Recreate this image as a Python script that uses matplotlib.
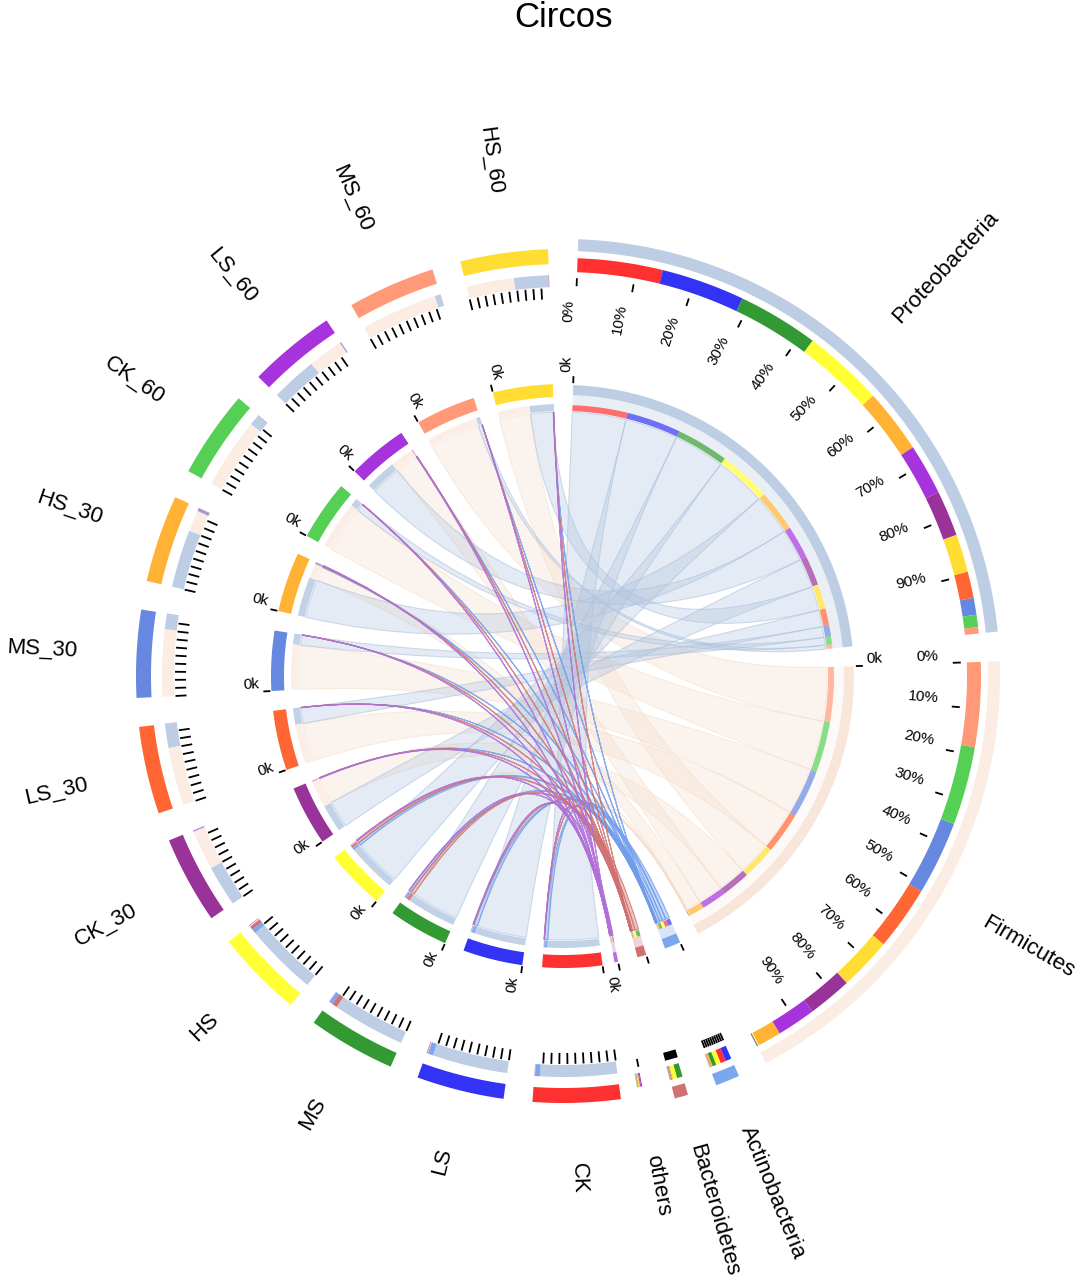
import numpy as np
import matplotlib
matplotlib.use("Agg")
import matplotlib.pyplot as plt
from matplotlib.path import Path
from matplotlib.patches import PathPatch, Polygon
from matplotlib.colors import to_rgba

plt.rcParams['font.family'] = ['Liberation Sans', 'DejaVu Sans']

# ---------------- data (relative abundance, % per sample) ----------------
samples = ["CK", "LS", "MS", "HS", "CK_30", "LS_30", "MS_30", "HS_30",
           "CK_60", "LS_60", "MS_60", "HS_60"]
phyla = ["Proteobacteria", "Firmicutes", "Actinobacteria", "Bacteroidetes", "others"]

proteobacteria = [93.2, 91.6, 88.6, 88.4, 50.0, 29.0, 18.5, 70.5, 13.5, 56.0, 7.0, 41.5]
firmicutes     = [0.3, 0.8, 0.3, 1.3, 48.4, 70.5, 81.0, 25.6, 86.0, 42.5, 92.7, 57.5]
actinobacteria = [6.0, 6.5, 4.4, 5.0, 0.3, 0.2, 0.3, 1.8, 0.2, 0.3, 0.1, 0.3]
bacteroidetes  = [0.2, 0.8, 6.2, 4.5, 0.3, 0.1, 0.1, 1.2, 0.1, 0.2, 0.1, 0.4]
others         = [0.3, 0.3, 0.5, 0.8, 1.0, 0.2, 0.1, 0.9, 0.2, 1.0, 0.1, 0.3]

sample_colors = ["#FF3030", "#3333F5", "#339933", "#FFFF33", "#993399", "#FF6633",
                 "#6688E0", "#FFB233", "#55D055", "#A633DB", "#FF9977", "#FFDD33"]
phylum_colors = ["#BCCDE4", "#FBEDE4", "#7BA7EE", "#D07272", "#B46EE0"]
phylum_outer = ["#BCCDE4", "#FBEDE4", "#7BA7EE", "#D07272", "none"]
ribbon_colors = ["#B0C4DE", "#F5DCC8", "#6E9CEB", "#D07070", "#B070D8"]
pct_ticks = [0, 10, 20, 30, 40, 50, 60, 70, 80, 90]

# ---------------- layout ----------------
W, H = 1084, 1288
CX, CY = 563, 676
GAP = 3.9
PH_START, PH_END = 2.0, 169.8
SM_START, SM_END = 172.2, 358.0

fig = plt.figure(figsize=(W / 100, H / 100), dpi=100)
ax = fig.add_axes([0, 0, 1, 1])
ax.set_xlim(0, W)
ax.set_ylim(H, 0)
ax.axis('off')

M = np.array([proteobacteria, firmicutes, actinobacteria, bacteroidetes, others])
ph_tot = M.sum(axis=1)
sm_tot = M.sum(axis=0)
ph_scale = (PH_END - PH_START - GAP * (len(phyla) - 1)) / ph_tot.sum()
sm_scale = (SM_END - SM_START - GAP * (len(samples) - 1)) / sm_tot.sum()


def pt(r, th):
    t = np.radians(th)
    return CX + r * np.sin(t), CY - r * np.cos(t)


def band(r0, r1, a0, a1, color, alpha=1.0, z=3):
    if color == "none" or a1 <= a0:
        return
    n = max(3, int((a1 - a0) / 0.4) + 3)
    ts = np.linspace(a0, a1, n)
    outer = [pt(r1, t) for t in ts]
    inner = [pt(r0, t) for t in ts[::-1]]
    ax.add_patch(Polygon(outer + inner, closed=True, facecolor=color, alpha=alpha,
                         edgecolor='none', zorder=z))


def tick(r0, r1, th, lw=1.3):
    x0, y0 = pt(r0, th)
    x1, y1 = pt(r1, th)
    ax.plot([x0, x1], [y0, y1], color='black', lw=lw, solid_capstyle='butt', zorder=6)


def radial_text(r, th, s, side='start', va='center', fs=16):
    x, y = pt(r, th)
    t = th % 360
    if t < 180:
        rot = 90 - t
        ha = 'left' if side == 'start' else 'right'
    else:
        rot = 270 - t
        ha = 'right' if side == 'start' else 'left'
    ax.text(x, y, s, rotation=rot, rotation_mode='anchor', ha=ha, va=va,
            fontsize=fs, color='black', zorder=7)


# segment positions
ph_seg = []
a = PH_START
for i in range(len(phyla)):
    span = ph_tot[i] * ph_scale
    ph_seg.append((a, a + span))
    a += span + GAP
sm_seg = []
a = SM_START
for j in range(len(samples)):
    span = sm_tot[j] * sm_scale
    sm_seg.append((a, a + span))
    a += span + GAP

# sub-blocks (descending order, clockwise)
ph_sub = {}
for i in range(len(phyla)):
    order = sorted(range(len(samples)), key=lambda j: -M[i, j])
    a = ph_seg[i][0]
    for j in order:
        w = M[i, j] * ph_scale
        ph_sub[(i, j)] = (a, a + w)
        a += w
sm_sub = {}
for j in range(len(samples)):
    order = sorted(range(len(phyla)), key=lambda i: -M[i, j])
    a = sm_seg[j][0]
    for i in order:
        w = M[i, j] * sm_scale
        sm_sub[(i, j)] = (a, a + w)
        a += w

# ---------------- ribbons ----------------
RR = 264


def ribbon(a0, a1, b0, b1, fc, fa, ea, z):
    n1 = max(2, int((a1 - a0) / 0.4) + 2)
    n2 = max(2, int((b1 - b0) / 0.4) + 2)
    arc1 = [pt(RR, t) for t in np.linspace(a0, a1, n1)]
    arc2 = [pt(RR, t) for t in np.linspace(b0, b1, n2)]
    verts = arc1 + [(CX, CY), arc2[0]] + arc2[1:] + [(CX, CY), arc1[0], arc1[0]]
    codes = ([Path.MOVETO] + [Path.LINETO] * (n1 - 1) + [Path.CURVE3, Path.CURVE3]
             + [Path.LINETO] * (n2 - 1) + [Path.CURVE3, Path.CURVE3, Path.CLOSEPOLY])
    ax.add_patch(PathPatch(Path(verts, codes), facecolor=to_rgba(fc, fa),
                           edgecolor=to_rgba(fc, ea), lw=0.8, zorder=z))


ribbon_alpha = {0: (0.33, 0.6), 1: (0.3, 0.5), 2: (0.4, 0.8), 3: (0.4, 0.8), 4: (0.45, 0.85)}
for z, i in enumerate([1, 0, 2, 3, 4]):
    for j in range(len(samples)):
        if M[i, j] <= 0:
            continue
        pa0, pa1 = ph_sub[(i, j)]
        sa0, sa1 = sm_sub[(i, j)]
        fa, ea = ribbon_alpha[i]
        ribbon(pa0, pa1, sa0, sa1, ribbon_colors[i], fa, ea, 1 + z * 0.1)

# ---------------- inner ring ----------------
for i in range(len(phyla)):
    a0, a1 = ph_seg[i]
    band(281, 291, a0, a1, phylum_colors[i] if phylum_colors[i] != "#FBEDE4" else "#F8E6DA")
    band(271, 281, a0, a1, phylum_colors[i], alpha=0.3)
    for j in range(len(samples)):
        b0, b1 = ph_sub[(i, j)]
        band(265, 271, b0, b1, sample_colors[j], alpha=0.7)
    tick(293, 300, a0)
    if a1 - a0 > 5:
        radial_text(304, a0, "0k", side='start', va='bottom', fs=11)

for j in range(len(samples)):
    a0, a1 = sm_seg[j]
    band(279, 292, a0, a1, sample_colors[j])
    for i in range(len(phyla)):
        b0, b1 = sm_sub[(i, j)]
        band(265, 272, b0, b1, phylum_colors[i], alpha=0.9)
    tick(293, 300, a0)
    radial_text(304, a0, "0k", side='start', va='bottom', fs=11)

# ---------------- outer ring ----------------
for i in range(len(phyla)):
    a0, a1 = ph_seg[i]
    band(425, 437, a0, a1, phylum_outer[i])
    for j in range(len(samples)):
        b0, b1 = ph_sub[(i, j)]
        band(404, 418, b0, b1, sample_colors[j])
    span = a1 - a0
    tks = pct_ticks if span > 1.2 else pct_ticks[:1]
    for p in tks:
        th = a0 + span * p / 100.0
        tick(390, 398, th)
        if span > 5:
            radial_text(376, th, f"{p}%", side='end', va='bottom', fs=11)
    radial_text(487, (a0 + a1) / 2, phyla[i], side='start', va='center', fs=16)

for j in range(len(samples)):
    a0, a1 = sm_seg[j]
    band(412, 427, a0, a1, sample_colors[j])
    for i in range(len(phyla)):
        b0, b1 = sm_sub[(i, j)]
        band(389, 401, b0, b1, phylum_colors[i])
    span = a1 - a0
    for p in pct_ticks:
        th = a0 + span * p / 100.0
        tick(377, 388, th)
    radial_text(487, (a0 + a1) / 2, samples[j], side='start', va='center', fs=16)

ax.text(CX, 17, "Circos", ha='center', va='center', fontsize=25, color='black')

fig.savefig("out.png", dpi=100)
